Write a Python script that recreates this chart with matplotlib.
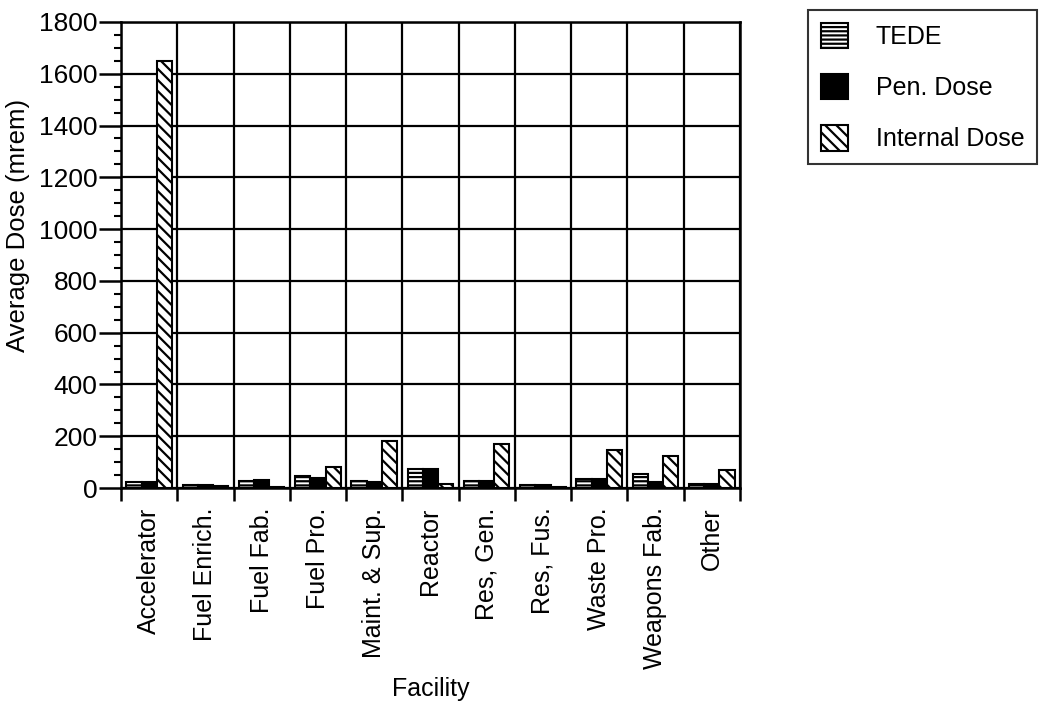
import numpy as np
import matplotlib
matplotlib.use("Agg")
import matplotlib.pyplot as plt
from matplotlib.ticker import MultipleLocator

plt.rcParams['font.family'] = ['Liberation Sans', 'DejaVu Sans']
plt.rcParams['hatch.linewidth'] = 1.6

facilities = ["Accelerator", "Fuel Enrich.", "Fuel Fab.", "Fuel Pro.", "Maint. & Sup.",
              "Reactor", "Res, Gen.", "Res, Fus.", "Waste Pro.", "Weapons Fab.", "Other"]
tede = [22, 10, 28, 48, 28, 72, 27, 13, 36, 54, 16]
pen_dose = [22, 10, 31, 40, 22, 72, 27, 13, 36, 23, 16]
internal_dose = [1650, 8, 3, 80, 180, 15, 170, 5, 146, 125, 68]

FS = 18

fig = plt.figure(figsize=(10.45, 7.04), dpi=100)
ax = fig.add_axes([0.1158, 0.3068, 0.708 - 0.1158, 0.9688 - 0.3068])

x = np.arange(len(facilities))
w = 0.27
ax.bar(x - w, tede, w, facecolor='white', edgecolor='black', hatch='----',
       linewidth=1.5, label='TEDE', zorder=3)
ax.bar(x, pen_dose, w, facecolor='black', edgecolor='black',
       linewidth=1.5, label='Pen. Dose', zorder=3)
ax.bar(x + w, internal_dose, w, facecolor='white', edgecolor='black', hatch='\\\\\\',
       linewidth=1.5, label='Internal Dose', zorder=3)

ax.set_xlim(-0.5, len(facilities) - 0.5)
ax.set_ylim(0, 1800)

# Category separators carry the ticks and vertical grid lines
ax.set_xticks(np.arange(-0.5, len(facilities)), minor=False)
ax.set_xticklabels([])
ax.set_xticks(x, minor=True)
ax.set_xticklabels(facilities, minor=True, rotation=90, fontsize=FS)
ax.tick_params(axis='x', which='minor', length=0, pad=14)
ax.tick_params(axis='x', which='major', length=9, width=1.8, direction='out')

ax.yaxis.set_major_locator(MultipleLocator(200))
ax.yaxis.set_minor_locator(MultipleLocator(50))
ax.tick_params(axis='y', which='major', length=16, width=1.8, labelsize=FS + 1, pad=1)
ax.tick_params(axis='y', which='minor', length=5, width=1.5)

ax.grid(True, which='major', axis='both', color='black', linewidth=1.6, zorder=1)
ax.set_axisbelow(True)
for s in ax.spines.values():
    s.set_linewidth(1.8)

ax.set_ylabel("Average Dose (mrem)", fontsize=FS + 0.5)
ax.yaxis.set_label_coords(-0.147, 0.564)
ax.set_xlabel("Facility", fontsize=FS)
ax.xaxis.set_label_coords(0.5, -0.405)

leg = fig.legend(loc='upper left', bbox_to_anchor=(808 / 1045, 1 - 10 / 704),
                 fontsize=FS, frameon=True, fancybox=False, edgecolor='black',
                 handlelength=1.1, handleheight=1.2, labelspacing=1.0,
                 handletextpad=1.1, borderpad=0.5, borderaxespad=0)
leg.get_frame().set_linewidth(1.5)

fig.savefig("out.png", dpi=100)
